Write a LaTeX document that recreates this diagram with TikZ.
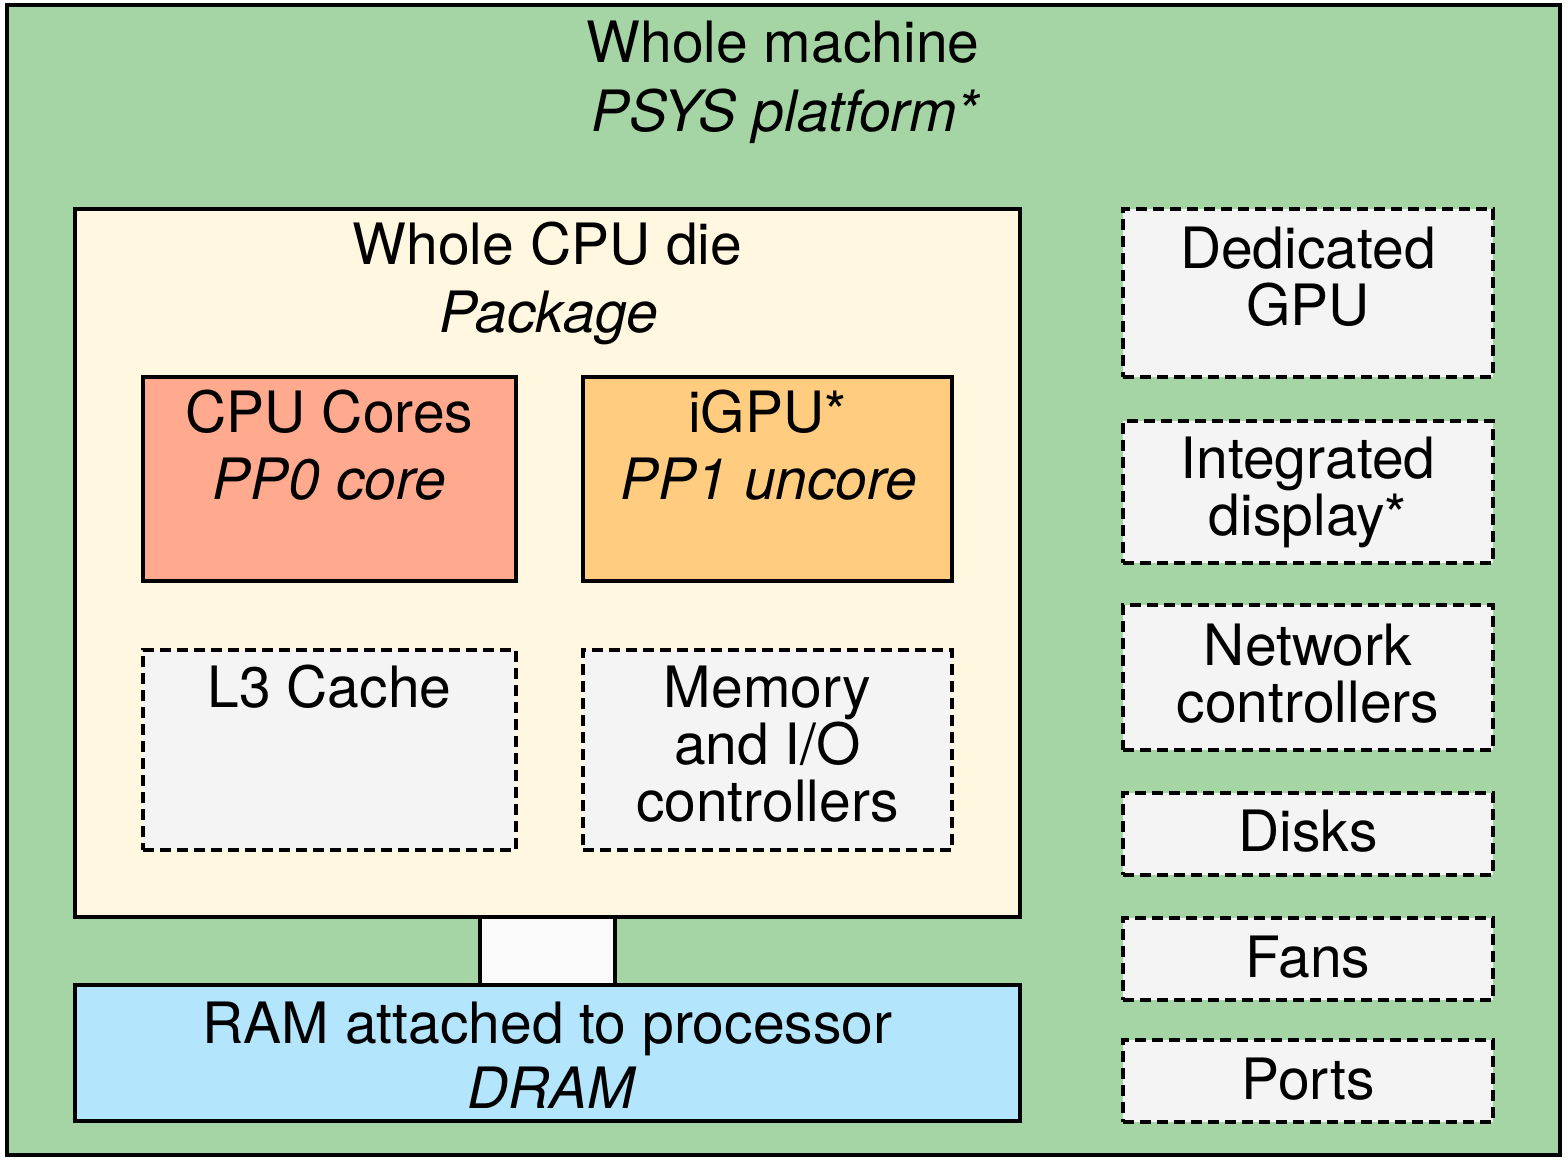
\documentclass[tikz,border=0pt]{standalone}
\usepackage{fontspec}
\setmainfont{TeX Gyre Heros}
\definecolor{machinegreen}{HTML}{A5D5A5}
\definecolor{pkgfill}{HTML}{FFF7E0}
\definecolor{corefill}{HTML}{FFAA8E}
\definecolor{igpufill}{HTML}{FFCC80}
\definecolor{greyfill}{HTML}{F4F4F4}
\definecolor{dramfill}{HTML}{B3E5FC}
\definecolor{linkfill}{HTML}{FAFAFA}
\tikzset{
  box/.style={draw=black, line width=3.5pt, inner sep=0pt, outer sep=0pt, rectangle, anchor=north west},
  dashbox/.style={box, dash pattern=on 11pt off 6pt, fill=greyfill},
  txt/.style={anchor=base, inner sep=0pt, font=\fontsize{57}{60}\selectfont},
  itxt/.style={anchor=base, inner sep=0pt, font=\fontsize{57}{60}\selectfont\itshape}
}
\begin{document}
\begin{tikzpicture}[x=1pt, y=-1pt]
\useasboundingbox (0,0) rectangle (1568,1161);
% outer machine
\node[box, fill=machinegreen, minimum width=1553pt, minimum height=1150pt] (machine) at (7,5) {};
\node[txt] (tmach1) at (783,63) {Whole machine};
\node[itxt] (tmach2) at (785,132) {PSYS platform*};
% package
\node[box, fill=pkgfill, minimum width=945pt, minimum height=708pt] (pkg) at (75,209) {};
\node[txt] (tpkg1) at (547.5,264) {Whole CPU die};
\node[itxt] (tpkg2) at (549,332) {Package};
% cores
\node[box, fill=corefill, minimum width=373pt, minimum height=204pt] (cores) at (143,377) {};
\node[txt] (tcores1) at (329.5,432) {CPU Cores};
\node[itxt] (tcores2) at (329.5,499) {PP0 core};
% igpu
\node[box, fill=igpufill, minimum width=369pt, minimum height=204pt] (igpu) at (583,377) {};
\node[txt] (tigpu1) at (767.5,432) {iGPU*};
\node[itxt] (tigpu2) at (769,499) {PP1 uncore};
% L3
\node[dashbox, minimum width=373pt, minimum height=200pt] (l3) at (143,650) {};
\node[txt] (tl3) at (329.5,707) {L3 Cache};
% memory
\node[dashbox, minimum width=369pt, minimum height=200pt] (mem) at (583,650) {};
\node[txt] (tmem1) at (767.5,707) {Memory};
\node[txt] (tmem2) at (767.5,764) {and I/O};
\node[txt] (tmem3) at (767.5,821) {controllers};
% link
\node[box, fill=linkfill, minimum width=135pt, minimum height=68pt] (link) at (480,917) {};
% dram
\node[box, fill=dramfill, minimum width=945pt, minimum height=136pt] (dram) at (75,985) {};
\node[txt] (tdram1) at (547.5,1043) {RAM attached to processor};
\node[itxt] (tdram2) at (551,1108) {DRAM};
% right column
\node[dashbox, minimum width=370pt, minimum height=168pt] (dgpu) at (1123,209) {};
\node[txt] (tdgpu1) at (1308,268) {Dedicated};
\node[txt] (tdgpu2) at (1308,325) {GPU};
\node[dashbox, minimum width=370pt, minimum height=142pt] (disp) at (1123,421) {};
\node[txt] (tdisp1) at (1308,478) {Integrated};
\node[txt] (tdisp2) at (1308,535) {display*};
\node[dashbox, minimum width=370pt, minimum height=145pt] (net) at (1123,605) {};
\node[txt] (tnet1) at (1308,665) {Network};
\node[txt] (tnet2) at (1308,722) {controllers};
\node[dashbox, minimum width=370pt, minimum height=82pt] (disks) at (1123,793) {};
\node[txt] (tdisks) at (1308,851) {Disks};
\node[dashbox, minimum width=370pt, minimum height=82pt] (fans) at (1123,918) {};
\node[txt] (tfans) at (1308,977) {Fans};
\node[dashbox, minimum width=370pt, minimum height=82pt] (ports) at (1123,1040) {};
\node[txt] (tports) at (1308,1099) {Ports};
\end{tikzpicture}
\end{document}
